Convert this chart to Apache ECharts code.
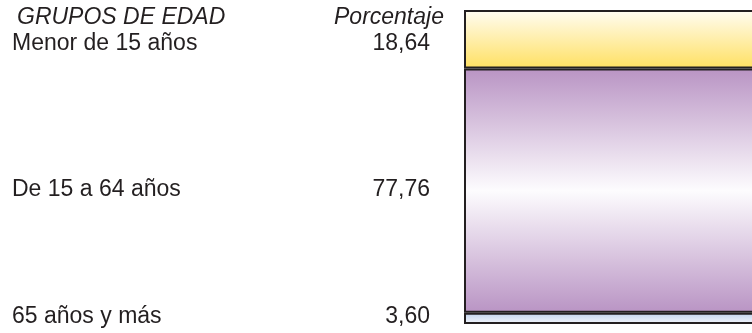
<!DOCTYPE html>
<html lang="es">
<head>
	<meta charset="UTF-8">
	<title>Grupos de edad</title>
	<script src="https://cdn.jsdelivr.net/npm/echarts@6/dist/echarts.min.js"></script>
	<style>
		html, body { margin: 0; padding: 0; background: #fff; overflow: hidden; }
		/* la barra continúa más allá del borde derecho de la imagen */
		#chart { width: 860px; height: 333px; }
	</style>
</head>
<body>
<div id="chart"></div>
<script>
	// datos (de arriba a abajo)
	var grupos = ['Menor de 15 años', 'De 15 a 64 años', '65 años y más'];
	var porcentajes = [18.64, 77.76, 3.60];
	var etiquetas = ['18,64', '77,76', '3,60'];

	var rellenos = [
		new echarts.graphic.LinearGradient(0, 0, 0, 1, [
			{offset: 0, color: '#fffdf3'},
			{offset: 1, color: '#ffe062'}
		]),
		new echarts.graphic.LinearGradient(0, 0, 0, 1, [
			{offset: 0, color: '#b994c4'},
			{offset: 0.5, color: '#fdfcfe'},
			{offset: 1, color: '#b994c4'}
		]),
		new echarts.graphic.LinearGradient(0, 0, 0, 1, [
			{offset: 0, color: '#bfd0ec'},
			{offset: 1, color: '#f4f7fc'}
		])
	];
	// pequeño ajuste vertical de cada fila de texto
	var desplaz = [[0, 4], [0, -1], [0, -2]];

	var fuente = '"Liberation Sans", Arial, sans-serif';

	var series = [];
	for (var i = 0; i < grupos.length; i++) {
		series.push({
			name: grupos[i],
			type: 'bar',
			stack: 'total',
			barWidth: '100%',
			data: [porcentajes[i]],
			itemStyle: {
				color: rellenos[i],
				borderColor: '#231f20',
				borderWidth: 2
			},
			label: {
				show: true,
				position: [-452, '50%'],
				offset: desplaz[i],
				align: 'left',
				verticalAlign: 'middle',
				formatter: (function (g, e) {
					return function () { return '{a|' + g + '}{b|' + e + '}'; };
				})(grupos[i], etiquetas[i]),
				rich: {
					a: {width: 318, fontSize: 23, color: '#231f20', fontFamily: fuente, align: 'left'},
					b: {width: 100, fontSize: 23, color: '#231f20', fontFamily: fuente, align: 'right'}
				}
			},
			emphasis: {disabled: true}
		});
	}

	var chart = echarts.init(document.getElementById('chart'), null, {renderer: 'canvas'});
	chart.setOption({
		animation: false,
		grid: {left: 464, right: 0, top: 10, bottom: 9, containLabel: false},
		xAxis: {type: 'category', data: [''], show: false},
		yAxis: {type: 'value', min: 0, max: 100, inverse: true, show: false},
		graphic: [
			{
				type: 'text', left: 17, top: 6,
				style: {text: 'GRUPOS DE EDAD', fill: '#231f20', font: 'italic 23px ' + fuente}
			},
			{
				type: 'text', left: 334, top: 6,
				style: {text: 'Porcentaje', fill: '#231f20', font: 'italic 23px ' + fuente}
			}
		],
		series: series
	});
</script>
</body>
</html>
